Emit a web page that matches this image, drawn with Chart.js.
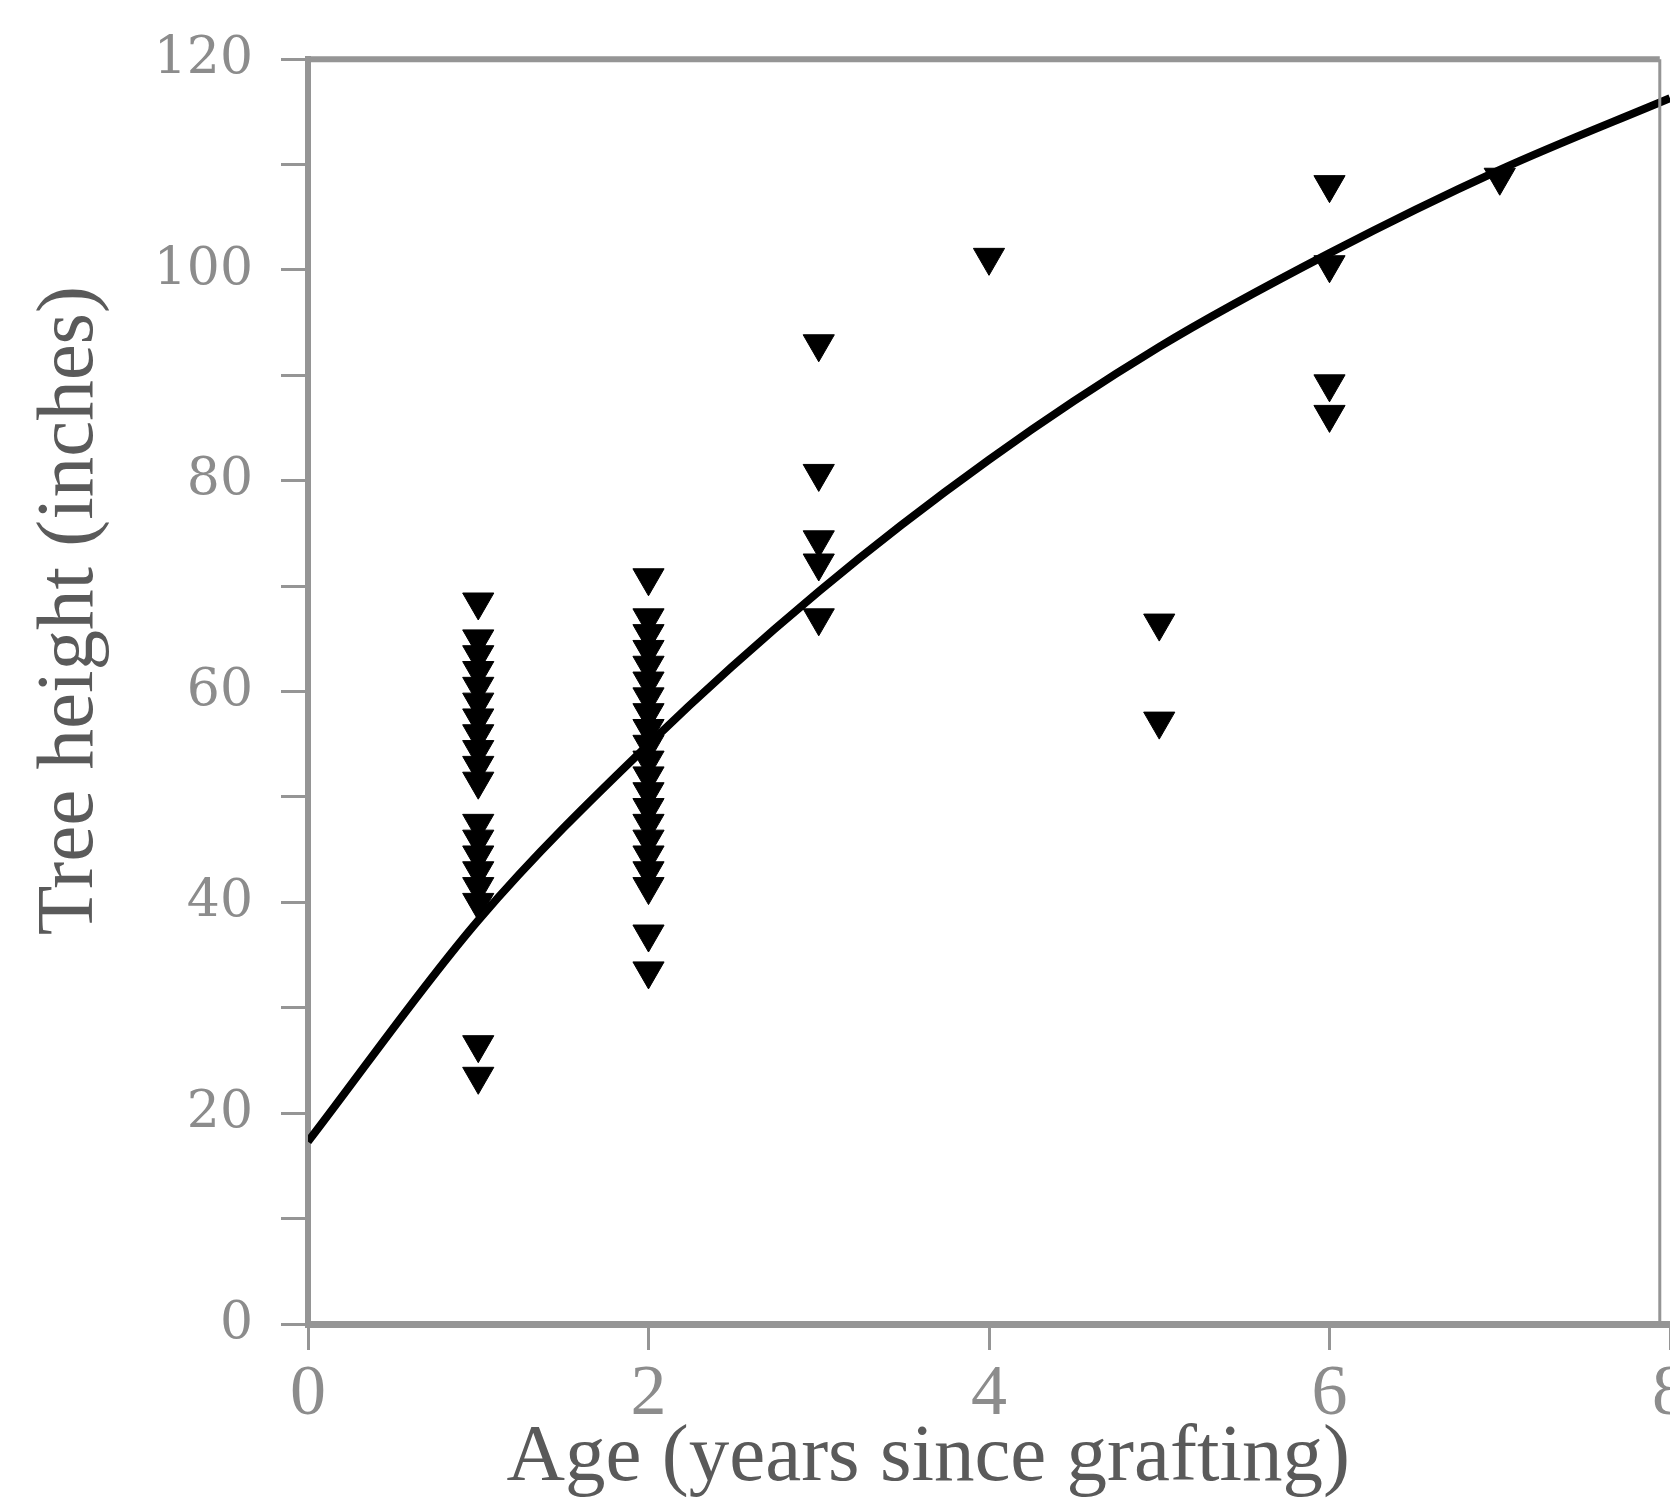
<!DOCTYPE html>
<html>
<head>
<meta charset="utf-8">
<script src="https://cdn.jsdelivr.net/npm/chart.js@4/dist/chart.umd.min.js"></script>
<style>
html, body { margin: 0; padding: 0; background: #fff; overflow: hidden; }
#wrap { width: 1690px; height: 1498px; }
</style>
</head>
<body>
<div id="wrap"><canvas id="chart" width="1690" height="1498"></canvas></div>
<script>
// fitted curve
const curveAges = [0, 1, 2, 3, 4, 5, 6, 7, 8];
const curveHeights = [17.3, 38.3, 55, 69.5, 82, 92.7, 101.6, 109.5, 116.3];

// measured trees, grouped by age
const age1Heights = [68.5, 65, 63.5, 62, 60.5, 59, 57.5, 56, 54.5, 53, 51.5, 47.5, 46, 44.5, 43, 41.5, 40, 26.5, 23.5];
const age2Heights = [70.8, 67, 65.5, 64, 62.5, 61, 59.5, 58, 56.5, 55, 53.5, 52, 50.5, 49, 47.5, 46, 44.5, 43, 41.5, 37, 33.5];
const age3Heights = [93, 80.7, 74.4, 72.2, 67];
const age4Heights = [101.2];
const age5Heights = [66.5, 57.2];
const age6Heights = [108.1, 100.5, 89.2, 86.3];
const age7Heights = [108.8];

const obsAges = [1, 2, 3, 4, 5, 6, 7];
const obsHeights = [age1Heights, age2Heights, age3Heights, age4Heights, age5Heights, age6Heights, age7Heights];

const xTicks = [0, 2, 4, 6, 8];
const yTickStep = 10;

const points = [];
obsAges.forEach((age, i) => {
    obsHeights[i].forEach(h => points.push({ x: age, y: h }));
});
const curve = curveAges.map((a, i) => ({ x: a, y: curveHeights[i] }));

const axisGray = '#959595';
const labelGray = '#8c8c8c';
const titleGray = '#5a5a5a';

// top and right frame lines (the right one sits a little short of x = 8)
const framePlugin = {
    id: 'frame',
    afterDraw(chart) {
        const { ctx, chartArea } = chart;
        const xs = chart.scales.x;
        const rightX = xs.getPixelForValue(7.94);
        ctx.save();
        ctx.strokeStyle = axisGray;
        ctx.lineWidth = 6;
        ctx.beginPath();
        ctx.moveTo(chartArea.left, chartArea.top);
        ctx.lineTo(rightX, chartArea.top);
        ctx.stroke();
        ctx.lineWidth = 3;
        ctx.beginPath();
        ctx.moveTo(rightX, chartArea.top);
        ctx.lineTo(rightX, chartArea.bottom);
        ctx.stroke();
        ctx.restore();
    }
};

new Chart(document.getElementById('chart'), {
    data: {
        datasets: [
            {
                type: 'line',
                data: curve,
                borderColor: '#000',
                borderWidth: 8,
                pointRadius: 0,
                cubicInterpolationMode: 'monotone',
                fill: false,
                order: 1
            },
            {
                type: 'scatter',
                data: points,
                pointStyle: 'triangle',
                rotation: 180,
                radius: 18,
                backgroundColor: '#000',
                borderColor: '#000',
                borderWidth: 1,
                order: 2
            }
        ]
    },
    options: {
        responsive: false,
        animation: false,
        events: [],
        layout: { padding: { top: 51, right: 14, left: 0, bottom: 0 } },
        plugins: { legend: { display: false }, tooltip: { enabled: false } },
        scales: {
            x: {
                type: 'linear',
                min: 0,
                max: 8,
                afterFit(scale) { scale.height = 174; },
                afterBuildTicks(scale) { scale.ticks = xTicks.map(v => ({ value: v })); },
                ticks: {
                    color: labelGray,
                    font: { family: 'Liberation Serif', size: 72 },
                    padding: 2,
                    maxRotation: 0
                },
                grid: { drawOnChartArea: false, tickLength: 26, tickColor: axisGray, tickWidth: 3 },
                border: { display: true, color: axisGray, width: 7 },
                title: {
                    display: true,
                    text: 'Age (years since grafting)      ',
                    color: titleGray,
                    font: { family: 'Liberation Serif', size: 81, lineHeight: 0.75 },
                    padding: { top: 0, bottom: 9 }
                }
            },
            y: {
                type: 'linear',
                min: 0,
                max: 120,
                afterFit(scale) { scale.width = 308; },
                ticks: {
                    stepSize: yTickStep,
                    autoSkip: false,
                    color: labelGray,
                    font: { family: 'DejaVu Serif', size: 52 },
                    padding: 28,
                    callback: v => (v % 20 === 0 ? v : '')
                },
                grid: { drawOnChartArea: false, tickLength: 27, tickColor: axisGray, tickWidth: 3 },
                border: { display: true, color: axisGray, width: 6 },
                title: {
                    display: true,
                    text: '        Tree height (inches)',
                    color: titleGray,
                    font: { family: 'Liberation Serif', size: 81, lineHeight: 1 },
                    padding: { top: 30, bottom: 0 }
                }
            }
        }
    },
    plugins: [framePlugin]
});
</script>
</body>
</html>
